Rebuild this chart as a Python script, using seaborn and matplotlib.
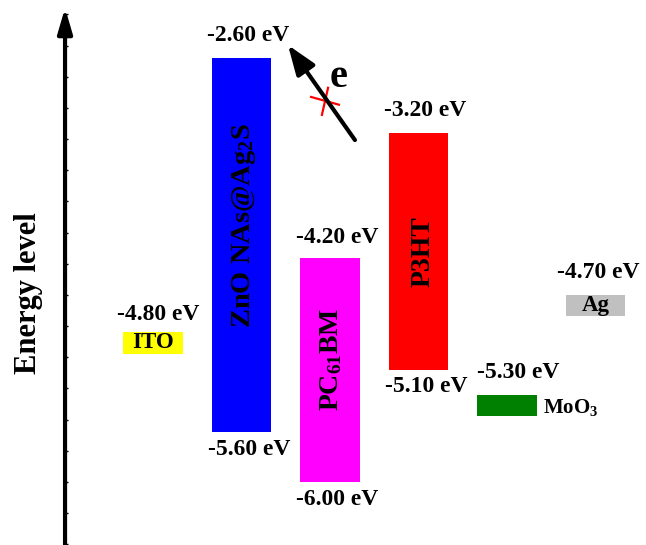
import numpy as np
import pandas as pd
import matplotlib
matplotlib.use("Agg")
import matplotlib.pyplot as plt
import seaborn as sns
from matplotlib.ticker import MultipleLocator

# ---------------- data ----------------
materials = ["ITO", "ZnO NAs@Ag$_2$S", "PC$_{61}$BM", "P3HT", "MoO$_3$", "Ag"]
block_top = [-4.80, -2.60, -4.20, -3.20, -5.30, -4.50]      # drawn top edge of each block (eV)
block_bottom = [-4.97, -5.60, -6.00, -5.10, -5.47, -4.67]   # drawn bottom edge of each block (eV)
top_labels = ["-4.80 eV", "-2.60 eV", "-4.20 eV", "-3.20 eV", "-5.30 eV", "-4.70 eV"]
bottom_labels = [None, "-5.60 eV", "-6.00 eV", "-5.10 eV", None, None]
colors = ["#FFFF00", "#0000FF", "#FF00FF", "#FF0000", "#008000", "#C0C0C0"]

# ---------------- style ----------------
sns.set_theme(style="white")
plt.rcParams["font.family"] = ["Liberation Serif", "DejaVu Serif"]
plt.rcParams["font.weight"] = "bold"
plt.rcParams["text.color"] = "black"
plt.rcParams["mathtext.fontset"] = "custom"
plt.rcParams["mathtext.rm"] = "Liberation Serif:bold"
plt.rcParams["mathtext.it"] = "Liberation Serif:bold"
plt.rcParams["mathtext.bf"] = "Liberation Serif:bold"

fig = plt.figure(figsize=(6.46, 5.45), dpi=100)
ax = fig.add_axes([0, 0, 1, 1])

df = pd.DataFrame({"material": materials,
                   "gap": np.array(block_top) - np.array(block_bottom)})
sns.barplot(data=df, x="material", y="gap", hue="material", palette=colors,
            saturation=1, legend=False, width=0.672, linewidth=0, ax=ax)
for patch, lo in zip(ax.patches, block_bottom):
    patch.set_y(lo)

ax.set_xlim(-1.729, 5.571)
ax.set_ylim(-6.505, -2.135)
ax.set_xlabel("")
ax.set_ylabel("")
ax.set_xticks([])
for s in ["top", "right", "bottom", "left"]:
    ax.spines[s].set_visible(False)

# energy axis with small ticks
x_axis = -0.994
ax.spines["left"].set_position(("data", x_axis))
ax.yaxis.set_major_locator(MultipleLocator(0.25))
ax.tick_params(axis="y", direction="in", length=2.2, width=1.0, color="black",
               labelleft=False, left=True)
ax.annotate("", xy=(x_axis, -2.199), xytext=(x_axis, -6.6),
            arrowprops=dict(arrowstyle="-|>,head_length=0.75,head_width=0.22",
                            lw=3, color="black", mutation_scale=20,
                            shrinkA=0, shrinkB=0))
ax.text(-1.412, -4.485, "Energy level", rotation=90, ha="center", va="center",
        fontsize=22, fontweight="bold")

# value labels
pt = 0.72  # points per pixel at dpi 100
top_dx = [5, 7, 7.5, 6.5, 11, 2.5]
top_dy = [18, 22, 20, 22, 22, 22]
for i, (lab, y) in enumerate(zip(top_labels, block_top)):
    ax.annotate(lab, xy=(i, y), xytext=(top_dx[i] * pt, top_dy[i] * pt),
                textcoords="offset points", ha="center", va="center",
                fontsize=17, fontweight="bold")
for i, (lab, y) in enumerate(zip(bottom_labels, block_bottom)):
    if lab is None:
        continue
    ax.annotate(lab, xy=(i, y), xytext=(7.5 * pt, -17 * pt),
                textcoords="offset points", ha="center", va="center",
                fontsize=17, fontweight="bold")

# names inside / beside blocks
mid = [(t + b) / 2 for t, b in zip(block_top, block_bottom)]
ax.text(0, mid[0], materials[0], ha="center", va="center", fontsize=16.5, fontweight="bold")
ax.text(5, mid[5], materials[5], ha="center", va="center", fontsize=16.5, fontweight="bold")
ax.annotate(materials[4], xy=(4 + 0.336, mid[4]), xytext=(6 * pt, -2 * pt),
            textcoords="offset points", ha="left", va="center",
            fontsize=15, fontweight="bold")
ax.annotate(materials[1], xy=(1, mid[1]), xytext=(3 * pt, 20 * pt),
            textcoords="offset points", rotation=90, ha="center", va="center",
            fontsize=20.5, fontweight="bold")
ax.annotate(materials[2], xy=(2, mid[2]), xytext=(1 * pt, 10 * pt),
            textcoords="offset points", rotation=90, ha="center", va="center",
            fontsize=20, fontweight="bold")
ax.annotate(materials[3], xy=(3, mid[3]), xytext=(5 * pt, 0),
            textcoords="offset points", rotation=90, ha="center", va="center",
            fontsize=20, fontweight="bold")

# blocked electron transfer arrow
ax.annotate("", xy=(1.525, -2.496), xytext=(2.282, -3.258),
            arrowprops=dict(arrowstyle="-|>,head_length=0.9,head_width=0.33",
                            lw=3, color="black", mutation_scale=20,
                            shrinkA=0, shrinkB=0))
ax.text(2.102, -2.755, "e", ha="center", va="center", fontsize=29, fontweight="bold")
ax.plot([1.774, 2.113], [-2.910, -2.977], color="red", lw=1.6, solid_capstyle="butt")
ax.plot([1.981, 1.906], [-2.830, -3.065], color="red", lw=1.6, solid_capstyle="butt")

fig.savefig("out.png", dpi=100)
